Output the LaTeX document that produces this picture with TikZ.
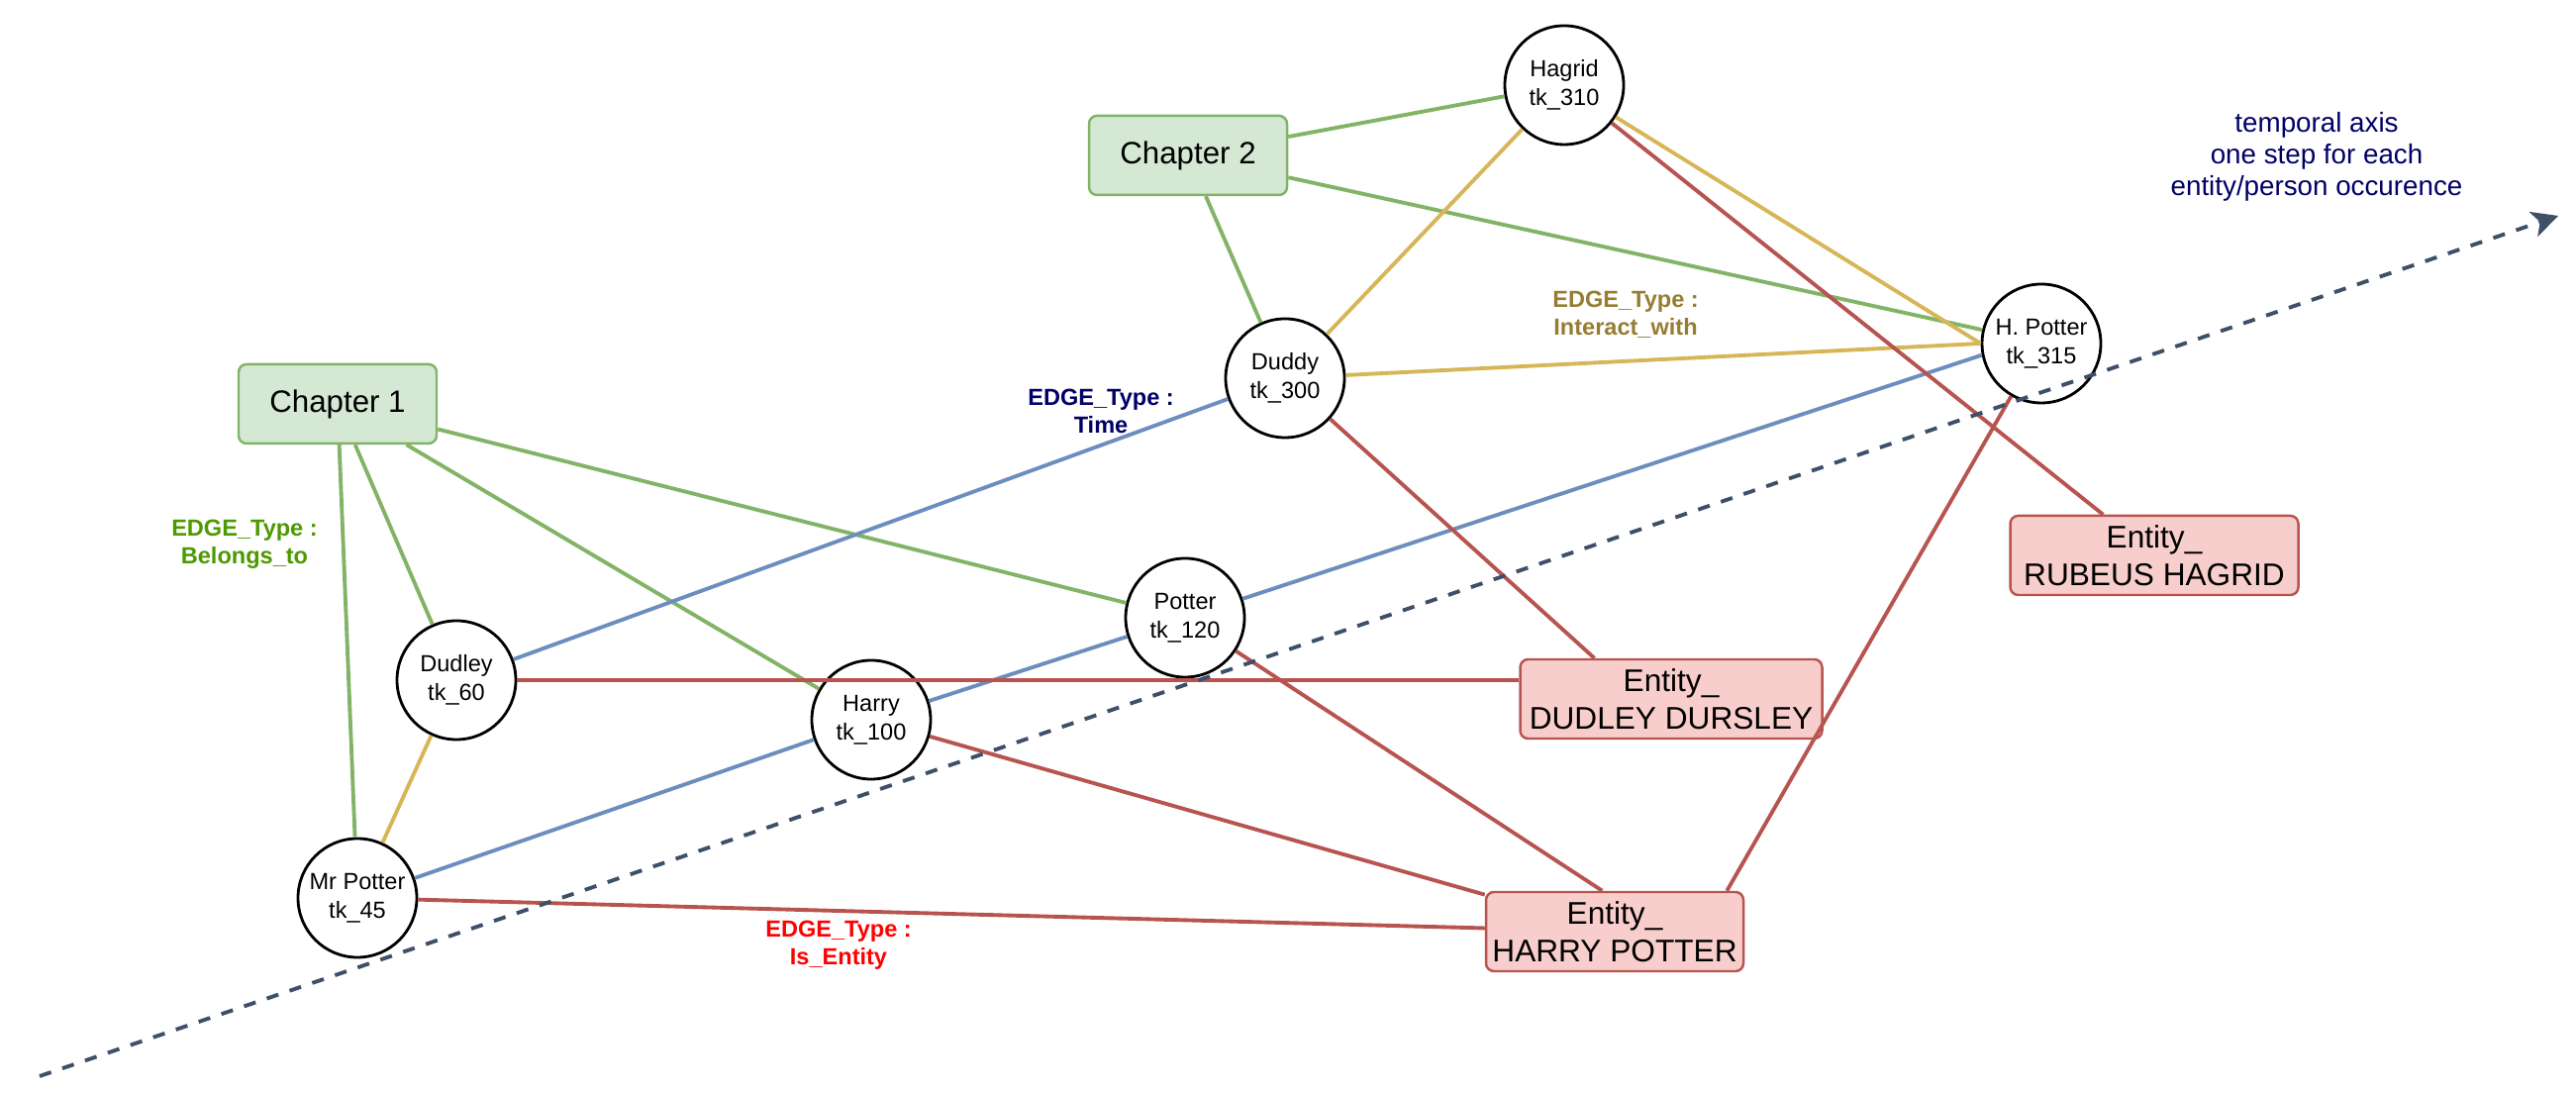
\documentclass[tikz,border=0pt]{standalone}
\usepackage{fontspec}
\setmainfont{Liberation Sans}
\usetikzlibrary{arrows.meta}
\definecolor{grfill}{HTML}{D5E8D4}
\definecolor{grline}{HTML}{82B366}
\definecolor{redfill}{HTML}{F8CECC}
\definecolor{redline}{HTML}{B85450}
\definecolor{yeline}{HTML}{D6B656}
\definecolor{blline}{HTML}{6C8EBF}
\definecolor{axisc}{HTML}{3D5068}
\definecolor{navy}{HTML}{000066}
\definecolor{olive}{HTML}{967D32}
\definecolor{leaf}{HTML}{4D9900}
\begin{document}
\begin{tikzpicture}[
    tok/.style={draw, circle, fill=white, line width=0.8pt, minimum size=1.2cm, inner sep=0pt, align=center, font=\fontsize{6.7}{8.2}\selectfont},
    chap/.style={draw=grline, fill=grfill, rounded corners=0.08cm, line width=0.7pt, minimum width=2cm, minimum height=0.8cm, font=\fontsize{8.9}{10.7}\selectfont},
    ent/.style={draw=redline, fill=redfill, rounded corners=0.08cm, line width=0.7pt, minimum height=0.8cm, inner sep=0pt, align=center, font=\fontsize{9}{10.9}\selectfont},
    belongs/.style={grline, line width=1.1pt},
    interact/.style={yeline, line width=1.1pt},
    tedge/.style={blline, line width=1.1pt},
    isent/.style={redline, line width=1.1pt},
    elabel/.style={align=center, font=\bfseries\fontsize{6.7}{8}\selectfont}
  ]
    \useasboundingbox (0,0) rectangle (26.02,11.04);

    \node[chap] (ch1) at (3.41,6.96) {Chapter 1};
    \node[chap] (ch2) at (12.00,9.47) {Chapter 2};

    \node[tok] (hagrid) at (15.80,10.18) {Hagrid\\tk\_310};
    \node[tok] (duddy) at (12.98,7.22) {Duddy\\tk\_300};
    \node[tok] (hpot) at (20.62,7.57) {H. Potter\\tk\_315};
    \node[tok] (potter) at (11.97,4.80) {Potter\\tk\_120};
    \node[tok] (dudley) at (4.61,4.17) {Dudley\\tk\_60};
    \node[tok] (harry) at (8.80,3.77) {Harry\\tk\_100};
    \node[tok] (mrpotter) at (3.61,1.97) {Mr Potter\\tk\_45};

    \node[ent, minimum width=2.91cm] (rh) at (21.76,5.43) {Entity\_\\RUBEUS HAGRID};
    \node[ent, minimum width=3.05cm] (dd) at (16.88,3.98) {Entity\_\\DUDLEY DURSLEY};
    \node[ent, minimum width=2.60cm] (hp) at (16.31,1.63) {Entity\_\\HARRY POTTER};

    \draw[belongs] (ch1) -- (mrpotter);
    \draw[belongs] (ch1) -- (dudley);
    \draw[belongs] (ch1) -- (harry);
    \draw[belongs] (ch1) -- (potter);
    \draw[belongs] (ch2) -- (hagrid);
    \draw[belongs] (ch2) -- (duddy);
    \draw[belongs] (ch2) -- (hpot.167);

    \draw[interact] (dudley) -- (mrpotter);
    \draw[interact] (duddy) -- (hagrid);
    \draw[interact] (duddy) -- (hpot.west);
    \draw[interact] (hagrid) -- (hpot.west);

    \draw[tedge] (mrpotter) -- (harry);
    \draw[tedge] (harry) -- (potter);
    \draw[tedge] (potter) -- (hpot.191);
    \draw[tedge] (dudley) -- (duddy);

    \draw[isent] (dudley) -- (dudley -| dd.west);
    \draw[isent] (duddy) -- (dd.152);
    \draw[isent] (mrpotter) -- (hp);
    \draw[isent] (harry) -- (hp);
    \draw[isent] (potter) -- (hp.107);
    \draw[isent] (hpot) -- (hp.20);
    \draw[isent] (hagrid) -- (rh);

    \node[elabel, text=leaf] (lbelongs) at (2.47,5.54) {EDGE\_Type :\\Belongs\_to};
    \node[elabel, text=navy] (ltime) at (11.12,6.89) {EDGE\_Type :\\Time};
    \node[elabel, text=olive] (linteract) at (16.42,7.86) {EDGE\_Type :\\Interact\_with};
    \node[elabel, text=red] (lisent) at (8.47,1.49) {EDGE\_Type :\\Is\_Entity};

    \coordinate (t0) at (0.40,0.17);
    \coordinate (t1) at (25.84,8.86);
    \draw[axisc, line width=1.1pt, dash pattern=on 3.5pt off 3.4pt, -{Stealth[length=7.5pt,width=7.5pt,inset=2pt]}] (t0) -- (t1);
    \node[align=center, text=navy, font=\fontsize{7.9}{9.1}\selectfont] (ltemporal) at (23.40,9.46) {temporal axis\\one step for each\\entity/person occurence};
\end{tikzpicture}
\end{document}
